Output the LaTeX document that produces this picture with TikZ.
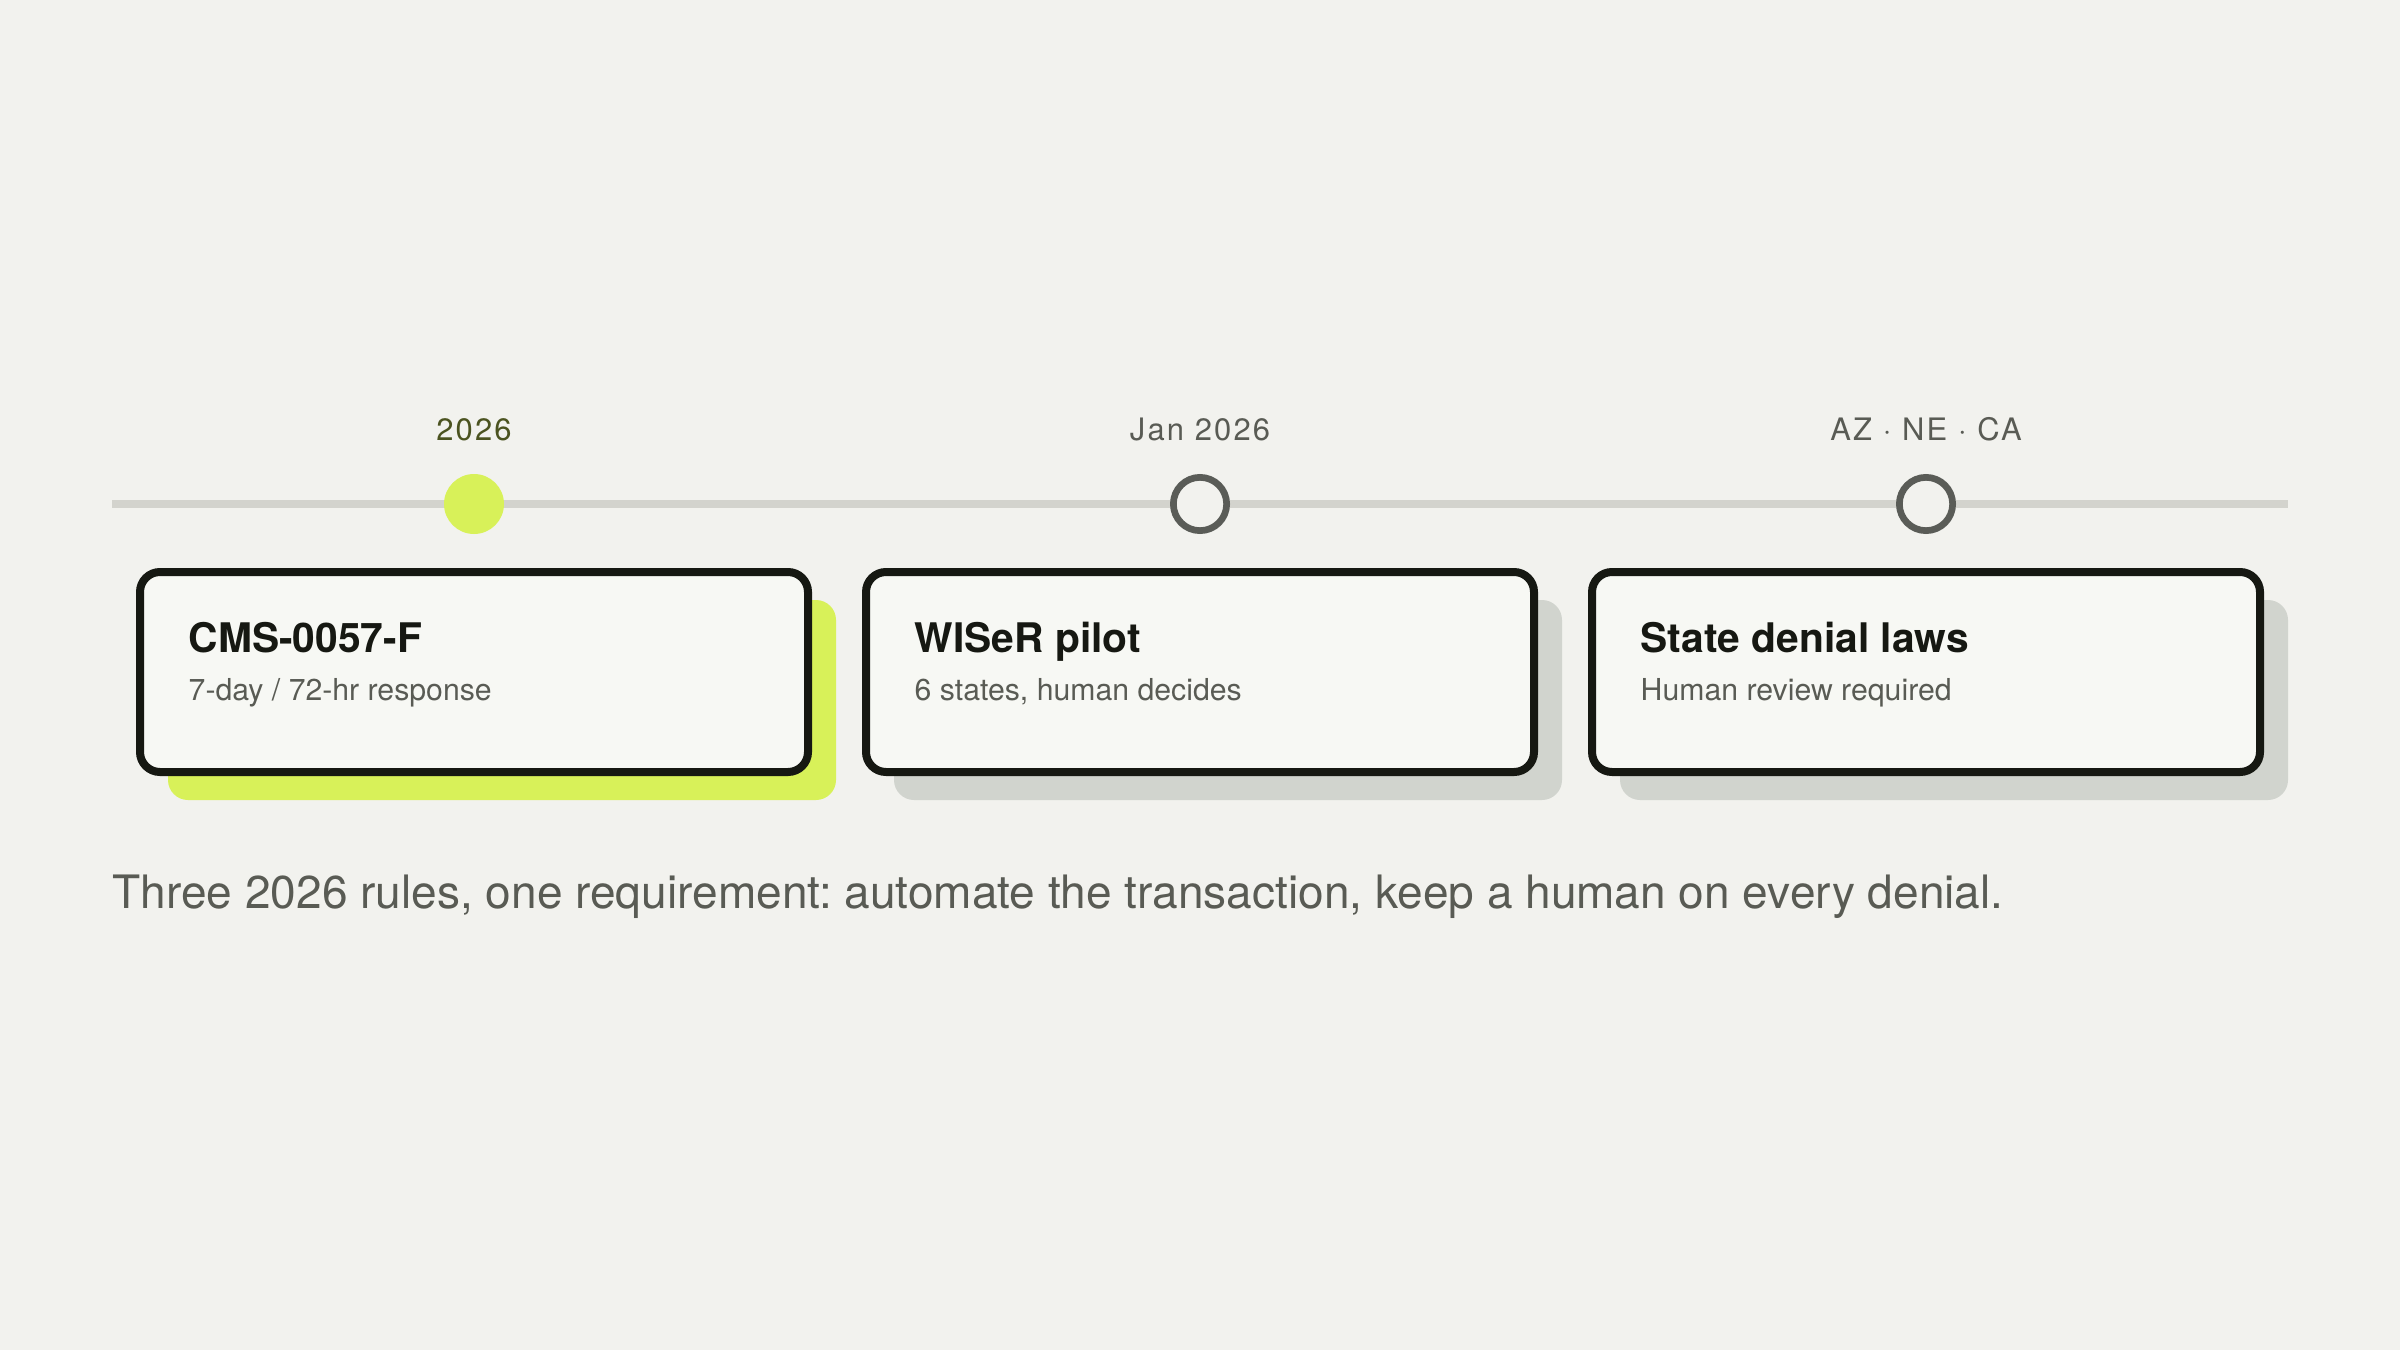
\documentclass[tikz,border=0pt]{standalone}
\usepackage{fontspec}
\setmainfont{TeX Gyre Heros}
\newfontfamily\trackfont[LetterSpace=7]{TeX Gyre Heros}
\usetikzlibrary{positioning,shadows}
\frenchspacing
\definecolor{paper}{HTML}{F2F2EE}
\definecolor{cardfill}{HTML}{F7F8F4}
\definecolor{ink}{HTML}{161812}
\definecolor{rail}{HTML}{D3D3CD}
\definecolor{ringgray}{HTML}{5A5C57}
\definecolor{lime}{HTML}{D8F159}
\definecolor{shadowgray}{HTML}{D1D4CE}
\definecolor{olive}{HTML}{4B5320}
\definecolor{mute}{HTML}{595B54}
\begin{document}
\begin{tikzpicture}
[x=0.1mm, y=-0.1mm,
 rule/.style = {draw=rail, line width=0.76mm},
 ring/.style = {circle, draw=ringgray, line width=0.67mm, fill=paper,
	minimum size=5.33mm, inner sep=0pt},
 dot/.style = {circle, fill=lime, minimum size=6mm, inner sep=0pt},
 when/.style = {inner sep=0pt, text depth=0pt, text=mute,
	font=\trackfont\fontsize{8.8pt}{10pt}\selectfont},
 card/.style = {shape=rectangle, rounded corners=2mm, draw=ink,
	line width=0.8mm, fill=cardfill, minimum width=66.8mm,
	minimum height=20mm, inner sep=0pt,
	drop shadow={shadow xshift=2.8mm, shadow yshift=-2.8mm,
		fill=#1, opacity=1}},
 card/.default = shadowgray,
 head/.style = {anchor=base west, inner sep=0pt, text=ink,
	font=\bfseries\fontsize{11.6pt}{13pt}\selectfont},
 sub/.style = {anchor=base west, inner sep=0pt, text=mute,
	font=\fontsize{8.6pt}{10pt}\selectfont}]

  \useasboundingbox[fill=paper] (0,0) rectangle (2400,1350);

  % timeline
  \coordinate (rail0) at (112,504);
  \coordinate (rail1) at (2288,504);
  \draw[rule] (rail0) -- (rail1);

  \node[dot] (d1) at (474,504) {};
  \node[ring] (d2) at (1200,504) {};
  \node[ring] (d3) at (1926,504) {};

  \node[when, text=olive, above=6.3mm of d1.center] (t1) {2026};
  \node[when, above=6.3mm of d2.center] (t2) {Jan 2026};
  \node[when, above=6.3mm of d3.center] (t3) {AZ · NE · CA};

  % cards
  \node[card=lime, below=6.4mm of d1.center] (c1) {};
  \node[card, below=6.4mm of d2.center] (c2) {};
  \node[card, below=6.4mm of d3.center] (c3) {};

  \node[head] (h1) at ([xshift=5.2mm, yshift=-8.4mm]c1.north west) {CMS-0057-F};
  \node[sub] (s1) at ([yshift=-4.8mm]h1.base west) {7-day / 72-hr response};
  \node[head] (h2) at ([xshift=5.2mm, yshift=-8.4mm]c2.north west) {WISeR pilot};
  \node[sub] (s2) at ([yshift=-4.8mm]h2.base west) {6 states, human decides};
  \node[head] (h3) at ([xshift=5.2mm, yshift=-8.4mm]c3.north west) {State denial laws};
  \node[sub] (s3) at ([yshift=-4.8mm]h3.base west) {Human review required};

  \node[anchor=base west, inner sep=0pt, text=mute,
	font=\fontsize{13.1pt}{16pt}\selectfont] (note) at (112,908)
	{Three 2026 rules, one requirement: automate the transaction, keep a human on every denial.};
\end{tikzpicture}
\end{document}
